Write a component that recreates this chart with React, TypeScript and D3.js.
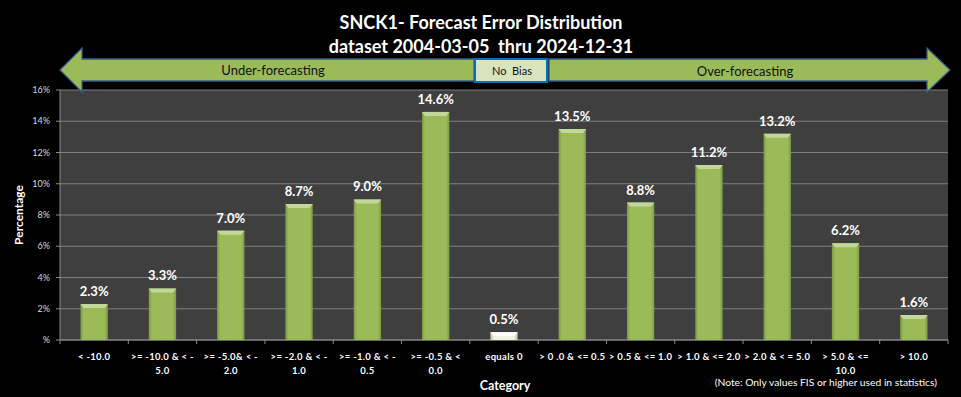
import * as d3 from 'd3';
import { useEffect, useRef } from 'react';

const categories = [
    ['< -10.0', ''],
    ['>= -10.0 & < -', '5.0'],
    ['>= -5.0& < -', '2.0'],
    ['>= -2.0 & < -', '1.0'],
    ['>= -1.0 & < -', '0.5'],
    ['>= -0.5 & <', '0.0'],
    ['equals 0', ''],
    ['> 0 .0 & <= 0.5', ''],
    ['> 0.5 & <= 1.0', ''],
    ['> 1.0 & <= 2.0', ''],
    ['> 2.0 & < = 5.0', ''],
    ['> 5.0 & <=', '10.0'],
    ['> 10.0', ''],
];
const values = [2.3, 3.3, 7.0, 8.7, 9.0, 14.6, 0.5, 13.5, 8.8, 11.2, 13.2, 6.2, 1.6];
const yTicks = [0, 2, 4, 6, 8, 10, 12, 14, 16];
const titleLines = ['SNCK1- Forecast Error Distribution', 'dataset 2004-03-05  thru 2024-12-31'];

function App() {
    const ref = useRef(null);

    useEffect(() => {
        document.body.style.margin = '0';
        document.body.style.overflow = 'hidden';
        const width = 961, height = 397;
        const el = d3.select(ref.current);
        el.selectAll('svg').remove();
        const svg = el.append('svg')
            .attr('width', width)
            .attr('height', height)
            .style('display', 'block')
            .style('font-family', 'Lato, "Noto Sans", sans-serif');

        svg.append('rect').attr('width', width).attr('height', height).attr('fill', '#000');

        const defs = svg.append('defs');
        // 柱子渐变：两边暗，中间亮
        const g1 = defs.append('linearGradient').attr('id', 'barG');
        g1.append('stop').attr('offset', '0%').attr('stop-color', '#7e9a45');
        g1.append('stop').attr('offset', '12%').attr('stop-color', '#9bbb59');
        g1.append('stop').attr('offset', '88%').attr('stop-color', '#9bbb59');
        g1.append('stop').attr('offset', '100%').attr('stop-color', '#7e9a45');
        const g2 = defs.append('linearGradient').attr('id', 'barW');
        g2.append('stop').attr('offset', '0%').attr('stop-color', '#b9c99a');
        g2.append('stop').attr('offset', '15%').attr('stop-color', '#eef3e2');
        g2.append('stop').attr('offset', '85%').attr('stop-color', '#eef3e2');
        g2.append('stop').attr('offset', '100%').attr('stop-color', '#b9c99a');

        const left = 60, right = 948, top = 90, bottom = 340;

        // plot background
        svg.append('rect')
            .attr('x', left).attr('y', top)
            .attr('width', right - left).attr('height', bottom - top)
            .attr('fill', '#3f3f3f');

        const x = d3.scaleBand().domain(d3.range(values.length)).range([left, right]).paddingInner(0.6).paddingOuter(0.3);
        const y = d3.scaleLinear().domain([0, 16]).range([bottom, top]);

        // gridlines
        svg.append('g').selectAll('line')
            .data(yTicks)
            .join('line')
            .attr('x1', left).attr('x2', right)
            .attr('y1', d => y(d)).attr('y2', d => y(d))
            .attr('stroke', '#7f7f7f').attr('stroke-width', 1.2);

        // y axis
        svg.append('line').attr('x1', left).attr('x2', left).attr('y1', top).attr('y2', bottom)
            .attr('stroke', '#8c8c8c');
        svg.append('g').selectAll('line')
            .data(yTicks)
            .join('line')
            .attr('x1', left - 4).attr('x2', left)
            .attr('y1', d => y(d)).attr('y2', d => y(d))
            .attr('stroke', '#8c8c8c');
        svg.append('g').selectAll('text')
            .data(yTicks)
            .join('text')
            .attr('x', left - 10).attr('y', d => y(d) + 3)
            .attr('text-anchor', 'end')
            .attr('fill', '#d9d9d9')
            .attr('font-size', 9)
            .text(d => d === 0 ? '%' : d + '%');

        // x axis
        svg.append('line').attr('x1', left).attr('x2', right).attr('y1', bottom).attr('y2', bottom)
            .attr('stroke', '#8c8c8c');
        svg.append('g').selectAll('line')
            .data(d3.range(values.length + 1))
            .join('line')
            .attr('x1', d => left + d * (right - left) / values.length)
            .attr('x2', d => left + d * (right - left) / values.length)
            .attr('y1', bottom).attr('y2', bottom + 4)
            .attr('stroke', '#8c8c8c');

        const cx = i => x(i) + x.bandwidth() / 2;
        const lab = svg.append('g').selectAll('text')
            .data(categories)
            .join('text')
            .attr('x', (d, i) => cx(i))
            .attr('y', 360)
            .attr('text-anchor', 'middle')
            .attr('fill', '#fff')
            .attr('font-size', 9.5)
            .attr('font-weight', 'bold')
            .attr('letter-spacing', 0.3);
        lab.append('tspan').attr('x', (d, i) => cx(i)).text(d => d[0]);
        lab.append('tspan').attr('x', (d, i) => cx(i)).attr('dy', 13.5).text(d => d[1]);

        // bars
        const bars = svg.append('g');
        values.forEach((v, i) => {
            const bx = x(i), bw = x.bandwidth(), by = y(v), bh = bottom - y(v);
            const white = categories[i][0] === 'equals 0';
            bars.append('rect')
                .attr('x', bx).attr('y', by).attr('width', bw).attr('height', bh)
                .attr('fill', white ? 'url(#barW)' : 'url(#barG)');
            const bev = Math.min(4, bh / 2);
            bars.append('path')
                .attr('d', `M${bx},${by}L${bx + bw},${by}L${bx + bw - 3},${by + bev}L${bx + 3},${by + bev}Z`)
                .attr('fill', white ? '#ffffff' : '#c3d69b');
            bars.append('text')
                .attr('x', cx(i)).attr('y', by - 8)
                .attr('text-anchor', 'middle')
                .attr('fill', '#fff')
                .attr('font-size', 13)
                .attr('font-weight', 'bold')
                .text(v.toFixed(1) + '%');
        });

        // arrows
        const arr = svg.append('g');
        arr.append('path')
            .attr('d', 'M60,70L82,48L82,59L474,59L474,81L82,81L82,92Z')
            .attr('fill', '#9bbb59').attr('stroke', '#385d8a').attr('stroke-width', 1.3);
        arr.append('path')
            .attr('d', 'M950,70L927,48L927,59L549,59L549,81L927,81L927,92Z')
            .attr('fill', '#9bbb59').attr('stroke', '#385d8a').attr('stroke-width', 1.3);
        arr.append('rect')
            .attr('x', 475).attr('y', 59).attr('width', 72).attr('height', 23)
            .attr('fill', '#d7e4bd').attr('stroke', '#0070c0').attr('stroke-width', 2);
        arr.append('text').attr('x', 273).attr('y', 75).attr('text-anchor', 'middle')
            .attr('font-size', 13).attr('fill', '#111').text('Under-forecasting');
        arr.append('text').attr('x', 512).attr('y', 75).attr('text-anchor', 'middle')
            .attr('font-size', 11).attr('fill', '#111').attr('xml:space', 'preserve').text('No  Bias');
        arr.append('text').attr('x', 745).attr('y', 76).attr('text-anchor', 'middle')
            .attr('font-size', 13).attr('fill', '#111').text('Over-forecasting');

        // titles
        svg.append('g').selectAll('text')
            .data(titleLines)
            .join('text')
            .attr('x', 481).attr('y', (d, i) => 29 + i * 24)
            .attr('text-anchor', 'middle')
            .attr('fill', '#fff')
            .attr('font-size', 18)
            .attr('font-weight', 'bold')
            .attr('xml:space', 'preserve')
            .text(d => d);

        svg.append('text')
            .attr('transform', `translate(23,${(top + bottom) / 2}) rotate(-90)`)
            .attr('text-anchor', 'middle')
            .attr('fill', '#fff')
            .attr('font-size', 12)
            .attr('font-weight', 'bold')
            .text('Percentage');

        svg.append('text')
            .attr('x', 505).attr('y', 390)
            .attr('text-anchor', 'middle')
            .attr('fill', '#fff')
            .attr('font-size', 12.5)
            .attr('font-weight', 'bold')
            .text('Category');

        svg.append('text')
            .attr('x', 937).attr('y', 386)
            .attr('text-anchor', 'end')
            .attr('fill', '#fff')
            .attr('font-size', 10.3)
            .text('(Note: Only values FIS or higher used in statistics)');
    }, []);

    return <div ref={ref}></div>;
}

export default App;
